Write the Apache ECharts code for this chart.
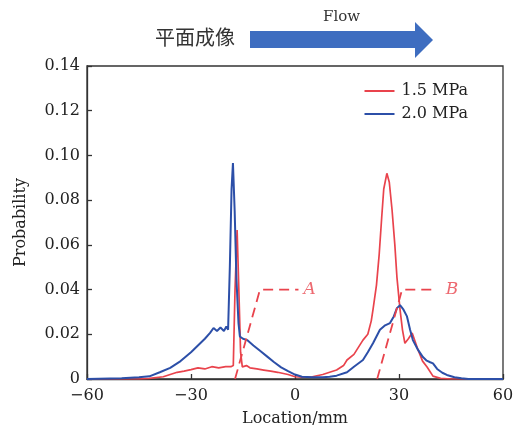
<!DOCTYPE html>
<html>
<head>
<meta charset="utf-8">
<script src="https://cdn.jsdelivr.net/npm/echarts@6/dist/echarts.min.js"></script>
<style>
html,body{margin:0;padding:0;background:#fff;}
#chart{width:514px;height:428px;}
</style>
</head>
<body>
<div id="chart"></div>
<script>
// ---- data (Location/mm, Probability) ----
const seriesNames = ['1.5 MPa', '2.0 MPa'];
const xTicks = [-60, -30, 0, 30, 60];
const yTicks = [0, 0.02, 0.04, 0.06, 0.08, 0.10, 0.12, 0.14];

const red15 = [
  [-60,0],[-45,0],[-42,0.0003],[-38,0.001],[-36,0.002],[-34,0.003],[-32,0.0035],[-30,0.0042],
  [-28,0.005],[-26,0.0045],[-24,0.0055],[-22,0.005],[-20,0.0055],[-18.5,0.0055],[-17.8,0.006],
  [-17.3,0.04],[-16.7,0.0666],[-16.2,0.04],[-15.7,0.012],[-15.2,0.0054],[-14,0.006],[-13,0.005],
  [-11,0.0045],[-9,0.004],[-7,0.0035],[-5,0.003],[-2,0.002],[0,0.001],[2,0.0008],[5,0.001],
  [8,0.002],[10,0.003],[12,0.004],[14,0.006],[15,0.0085],[17,0.011],[19.6,0.0174],[21,0.02],
  [22,0.026],[22.5,0.031],[23.5,0.042],[24.3,0.056],[25,0.072],[25.6,0.085],[26.5,0.092],
  [27.2,0.088],[28,0.0756],[28.8,0.06],[29.4,0.0456],[30.3,0.031],[31,0.022],[31.7,0.016],
  [32.7,0.018],[33.8,0.0206],[35.5,0.013],[36.8,0.008],[38.1,0.0054],[39.8,0.0013],[42,0.0003],
  [45,0],[60,0]
];

const blue20 = [
  [-60,0],[-50,0.0003],[-45,0.0008],[-42,0.0012],[-39,0.003],[-36,0.005],[-33,0.008],[-30,0.012],
  [-28,0.015],[-26,0.018],[-24.5,0.0206],[-23.5,0.0228],[-22.5,0.0215],[-21.5,0.023],[-20.5,0.0215],
  [-19.8,0.0235],[-19.3,0.022],[-18.8,0.05],[-18.3,0.085],[-17.9,0.0966],[-17.4,0.075],[-16.9,0.045],
  [-16.3,0.025],[-15.9,0.019],[-15,0.018],[-13.8,0.0174],[-12,0.015],[-10,0.0125],[-8,0.010],
  [-6,0.0075],[-4,0.0052],[-2,0.0035],[0,0.002],[2,0.001],[5,0.0008],[8,0.0008],[10,0.001],
  [12,0.0015],[15,0.003],[17,0.0055],[19.6,0.0085],[21,0.012],[22.5,0.016],[24.5,0.022],[26,0.024],
  [27.4,0.025],[28.5,0.028],[29.4,0.0317],[30.3,0.033],[31.3,0.031],[32.3,0.028],[33.2,0.022],
  [34,0.0174],[35.5,0.013],[36.9,0.0098],[38,0.0082],[39,0.0075],[39.8,0.007],[41,0.0045],
  [42.5,0.0028],[43.8,0.0018],[46,0.0008],[48,0.0003],[50,0],[60,0]
];

// annotation leader lines (dashed) and labels
const leaderA = [[-17.3,0],[-10.1,0.04],[1.0,0.04]];
const leaderB = [[23.7,0],[30.9,0.04],[40.4,0.04]];
const labelA = [[4.2,0.04,'A']];
const labelB = [[45.3,0.04,'B']];

const RED = '#E9434C';
const BLUE = '#2C4FA8';
const SERIF = '"DejaVu Serif","Liberation Serif",serif';

const chart = echarts.init(document.getElementById('chart'), null, {renderer:'canvas'});
chart.setOption({
  backgroundColor:'#fff',
  animation:false,
  grid:{left:87,right:11,top:66,bottom:49,outerBoundsMode:'none',containLabel:false,
    show:true,borderColor:'#333',borderWidth:1.3,backgroundColor:'transparent'},
  legend:{
    data:seriesNames,
    orient:'vertical',
    right:41, top:78,
    icon:'rect', itemWidth:30, itemHeight:2, itemGap:7,
    textStyle:{fontFamily:SERIF,fontSize:16,color:'#222',padding:[0,0,0,2]}
  },
  xAxis:{
    type:'value', min:-60, max:60, interval:30,
    axisLine:{show:true,onZero:false,lineStyle:{color:'#333',width:1.3}},
    axisTick:{show:true,inside:true,length:5,lineStyle:{color:'#333',width:1.3}},
    splitLine:{show:false},
    axisLabel:{fontFamily:SERIF,fontSize:16,color:'#222',margin:9,
      formatter:v=> (v<0? '\u2212'+Math.abs(v) : String(v))},
    name:'Location/mm', nameLocation:'middle', nameGap:32,
    nameTextStyle:{fontFamily:SERIF,fontSize:16,color:'#222'}
  },
  yAxis:{
    type:'value', min:0, max:0.14, interval:0.02,
    axisLine:{show:true,onZero:false,lineStyle:{color:'#333',width:1.3}},
    axisTick:{show:true,inside:true,length:5,lineStyle:{color:'#333',width:1.3}},
    splitLine:{show:false},
    axisLabel:{fontFamily:SERIF,fontSize:16,color:'#222',margin:7,
      formatter:v=>{ const r=Math.round(v*100)/100; return r===0?'0':r.toFixed(2);}},
    name:'Probability', nameLocation:'middle', nameGap:58, nameRotate:90,
    nameTextStyle:{fontFamily:SERIF,fontSize:16,color:'#222'}
  },
  series:[
    {name:seriesNames[0],type:'line',data:red15,showSymbol:false,symbol:'none',
     lineStyle:{color:RED,width:1.7},itemStyle:{color:RED},z:3},
    {name:seriesNames[1],type:'line',data:blue20,showSymbol:false,symbol:'none',
     lineStyle:{color:BLUE,width:2},itemStyle:{color:BLUE},z:4},
    {type:'line',data:leaderA,showSymbol:false,symbol:'none',silent:true,
     lineStyle:{color:RED,width:1.8,type:[10,6]},z:5},
    {type:'line',data:leaderB,showSymbol:false,symbol:'none',silent:true,
     lineStyle:{color:RED,width:1.8,type:[10,6]},z:5},
    {type:'scatter',data:labelA,symbolSize:0,silent:true,
     label:{show:true,position:'inside',formatter:p=>p.data[2],
       fontFamily:SERIF,fontStyle:'italic',fontSize:17,color:RED}},
    {type:'scatter',data:labelB,symbolSize:0,silent:true,
     label:{show:true,position:'inside',formatter:p=>p.data[2],
       fontFamily:SERIF,fontStyle:'italic',fontSize:17,color:RED}}
  ],
  graphic:[
    {type:'text',left:155,top:27,style:{text:'平面成像',font:'20px "Noto Sans CJK SC"',fill:'#333'}},
    {type:'polygon',shape:{points:[[250,31],[415,31],[415,22],[433,40],[415,58],[415,48],[250,48]]},
     style:{fill:'#3E6DC0'}},
    {type:'text',left:323,top:10,style:{text:'Flow',font:'15px "DejaVu Serif"',fill:'#333'}}
  ]
});
</script>
</body>
</html>
